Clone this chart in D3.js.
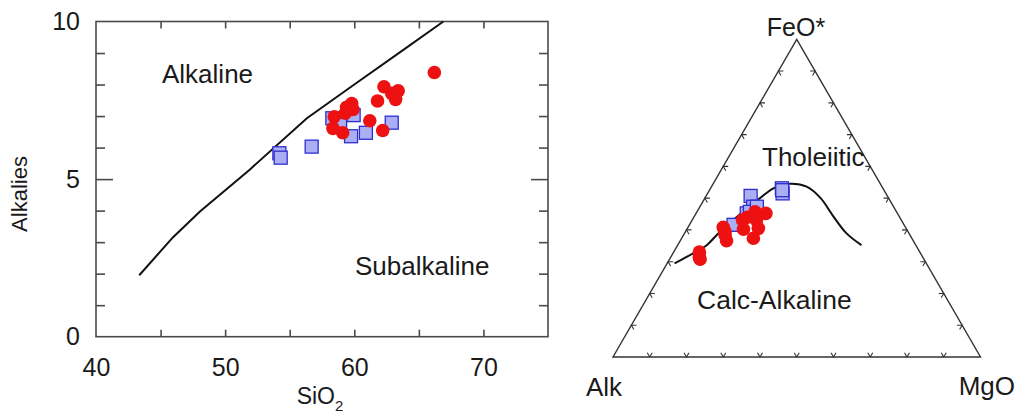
<!DOCTYPE html>
<html lang="en">
<head>
<meta charset="UTF-8">
<title>Alkalies vs SiO2 and AFM diagram</title>
<script src="https://d3js.org/d3.v7.min.js"></script>
<style>
  body { margin: 0; background: #fff; }
  text { font-family: "Liberation Sans", Arial, sans-serif; fill: #1a1a1a; }
</style>
</head>
<body>
<script>
// --- TAS style plot (SiO2 vs alkalies) ---
const sio2Red = [66.2, 62.3, 63.4, 63.2, 62.9, 61.8, 59.8, 59.4, 59.9, 59.3, 58.45, 61.2, 58.35, 59.1, 62.2];
const alkRed  = [8.38, 7.93, 7.80, 7.53, 7.72, 7.48, 7.40, 7.28, 7.21, 7.09, 6.98, 6.85, 6.61, 6.47, 6.54];
const sio2Blue = [54.2, 54.3, 56.7, 58.3, 58.9, 59.95, 59.75, 60.9, 62.9];
const alkBlue  = [5.82, 5.68, 6.03, 6.93, 6.72, 7.03, 6.36, 6.47, 6.79];
// Irvine & Baragar alkaline / subalkaline divide
const divideSio2 = [43.35, 45.95, 48.05, 51.9, 56.33, 60, 63.8, 66.9];
const divideAlk  = [1.95, 3.15, 3.97, 5.3, 6.93, 8.0, 9.1, 10];
const xTickLabels = [40, 50, 60, 70];
const yTickLabels = [0, 5, 10];

// --- AFM ternary, points as [Alk, FeO*, MgO] in % ---
const ternRed = [
  [60.8, 31.4, 7.8], [60.0, 33.0, 7.0], [49.6, 40.8, 9.6], [50.3, 38.4, 11.3],
  [50.8, 36.6, 12.6], [43.2, 43.1, 13.7], [44.4, 40.2, 15.4], [38.5, 45.7, 15.8],
  [39.4, 43.1, 17.5], [40.2, 40.5, 19.3], [43.1, 37.4, 19.5], [35.8, 45.2, 19.0],
  [60.9, 30.8, 8.3], [41.5, 44.0, 14.5], [49.8, 39.4, 10.8]
];
const ternBlue = [
  [37.2, 50.7, 12.1], [27.5, 53.1, 19.4], [28.1, 51.5, 20.4], [38.2, 47.3, 14.5],
  [41.0, 45.2, 13.8], [46.4, 41.6, 12.0], [39.9, 45.7, 14.4], [37.2, 47.3, 15.5],
  [27.7, 52.5, 19.8]
];
// tholeiitic / calc-alkaline boundary
const ternCurve = [
  [68.5, 29.5, 2.0], [63.0, 32.1, 4.9], [56.9, 35.2, 7.9], [51.9, 38.9, 9.2],
  [43.8, 44.4, 11.8], [35.0, 50.0, 15.0], [29.8, 53.1, 17.1], [24.6, 54.5, 20.9],
  [20.5, 53.6, 25.9], [18.5, 50.0, 31.5], [17.9, 44.2, 37.9], [17.0, 38.9, 44.1],
  [14.8, 35.2, 50.0]
];
const ternTicks = [10, 20, 30, 40, 50, 60, 70, 80, 90];

const redFill = "#ee1111";
const blueFill = "#aaaef2";
const blueStroke = "#2e2ed0";
const frameColor = "#4a4a4a";

const svg = d3.select("body").append("svg")
  .attr("width", 1019)
  .attr("height", 415);

svg.append("rect").attr("width", 1019).attr("height", 415).attr("fill", "#fff");

// ---------- left plot ----------
const x = d3.scaleLinear().domain([40, 75]).range([96, 548]);
const y = d3.scaleLinear().domain([0, 10]).range([336.7, 21.5]);

const left = svg.append("g");

left.append("rect")
  .attr("x", x(40)).attr("y", y(10))
  .attr("width", x(75) - x(40)).attr("height", y(0) - y(10))
  .attr("fill", "none").attr("stroke", frameColor).attr("stroke-width", 1.6);

const xMinor = [45, 50, 55, 60, 65, 70];
const yMinor = [1, 2, 3, 4, 6, 7, 8, 9];

// inward ticks on all four sides
left.append("g").attr("transform", `translate(0,${y(0)})`)
  .call(d3.axisBottom(x).tickValues(xMinor).tickSize(-7).tickFormat(""));
left.append("g").attr("transform", `translate(0,${y(10)})`)
  .call(d3.axisTop(x).tickValues(xMinor).tickSize(-7).tickFormat(""));
left.append("g").attr("transform", `translate(${x(40)},0)`)
  .call(d3.axisLeft(y).tickValues(yMinor).tickSize(-9).tickFormat(""));
left.append("g").attr("transform", `translate(${x(75)},0)`)
  .call(d3.axisRight(y).tickValues(yMinor).tickSize(-9).tickFormat(""));
left.append("g").attr("transform", `translate(${x(40)},0)`)
  .call(d3.axisLeft(y).tickValues([5]).tickSize(-17).tickFormat(""));
left.append("g").attr("transform", `translate(${x(75)},0)`)
  .call(d3.axisRight(y).tickValues([5]).tickSize(-17).tickFormat(""));

left.selectAll(".domain").remove();
left.selectAll(".tick line").attr("stroke", frameColor).attr("stroke-width", 1.6);

// tick labels
const xLab = left.append("g").attr("transform", `translate(0,${y(0)})`)
  .call(d3.axisBottom(x).tickValues(xTickLabels).tickSize(0).tickPadding(22).tickFormat(d3.format("d")));
const yLab = left.append("g").attr("transform", `translate(${x(40)},0)`)
  .call(d3.axisLeft(y).tickValues(yTickLabels).tickSize(0).tickPadding(16).tickFormat(d3.format("d")));
[xLab, yLab].forEach(g => {
  g.select(".domain").remove();
  g.selectAll("text").attr("font-size", 25).attr("font-family", "Liberation Sans, Arial, sans-serif").attr("fill", "#1a1a1a");
});

// axis titles
const sioT = left.append("text")
  .attr("x", 320).attr("y", 404)
  .attr("text-anchor", "middle")
  .attr("font-size", 23);
sioT.append("tspan").text("SiO");
sioT.append("tspan").attr("font-size", 15).attr("dy", 7).text("2");

left.append("text")
  .attr("transform", "translate(27,194) rotate(-90)")
  .attr("text-anchor", "middle")
  .attr("font-size", 22)
  .text("Alkalies");

left.append("text").attr("x", 162).attr("y", 83).attr("font-size", 26).text("Alkaline");
left.append("text").attr("x", 355).attr("y", 275).attr("font-size", 26).text("Subalkaline");

// dividing line
left.append("path")
  .datum(d3.zip(divideSio2, divideAlk))
  .attr("d", d3.line().x(d => x(d[0])).y(d => y(d[1])))
  .attr("fill", "none").attr("stroke", "#111").attr("stroke-width", 2);

// samples
left.selectAll(".sq").data(d3.zip(sio2Blue, alkBlue)).join("rect")
  .attr("x", d => x(d[0]) - 6.5).attr("y", d => y(d[1]) - 6.5)
  .attr("width", 13).attr("height", 13)
  .attr("fill", blueFill).attr("stroke", blueStroke).attr("stroke-width", 1.3);
left.selectAll(".dot").data(d3.zip(sio2Red, alkRed)).join("circle")
  .attr("cx", d => x(d[0])).attr("cy", d => y(d[1]))
  .attr("r", 6.8).attr("fill", redFill);

// ---------- AFM ternary ----------
const tx = d3.scaleLinear().domain([0, 100]).range([613, 980.5]);
const ty = d3.scaleLinear().domain([0, 100]).range([357, 39.3]);
// [alk, feo, mgo] -> screen
const tern = d => [tx(d[2] + d[1] / 2), ty(d[1])];

const right = svg.append("g");

right.append("path")
  .attr("d", d3.line()([tern([100, 0, 0]), tern([0, 0, 100]), tern([0, 100, 0])]) + "Z")
  .attr("fill", "none").attr("stroke", "#333").attr("stroke-width", 1.4);

// chevron ticks pointing along the ternary grid directions
const tl = 5;
const deg = Math.PI / 180;
function chevron(p, a1, a2) {
  return `M${p[0] + tl * Math.cos(a1 * deg)},${p[1] - tl * Math.sin(a1 * deg)}L${p[0]},${p[1]}L${p[0] + tl * Math.cos(a2 * deg)},${p[1] - tl * Math.sin(a2 * deg)}`;
}
const tickPaths = [];
ternTicks.forEach(t => {
  tickPaths.push(chevron(tern([100 - t, 0, t]), 60, 120));   // bottom
  tickPaths.push(chevron(tern([100 - t, t, 0]), 0, -60));    // left
  tickPaths.push(chevron(tern([0, t, 100 - t]), 180, 240));  // right
});
right.selectAll(".tt").data(tickPaths).join("path")
  .attr("d", d => d)
  .attr("fill", "none").attr("stroke", "#333").attr("stroke-width", 1.1);

right.append("path")
  .datum(ternCurve)
  .attr("d", d3.line().x(d => tern(d)[0]).y(d => tern(d)[1]).curve(d3.curveCatmullRom))
  .attr("fill", "none").attr("stroke", "#111").attr("stroke-width", 2);

right.selectAll(".sq").data(ternBlue).join("rect")
  .attr("x", d => tern(d)[0] - 6.5).attr("y", d => tern(d)[1] - 6.5)
  .attr("width", 13).attr("height", 13)
  .attr("fill", blueFill).attr("stroke", blueStroke).attr("stroke-width", 1.3);
right.selectAll(".dot").data(ternRed).join("circle")
  .attr("cx", d => tern(d)[0]).attr("cy", d => tern(d)[1])
  .attr("r", 6.8).attr("fill", redFill);

right.append("text").attr("x", 796).attr("y", 36).attr("text-anchor", "middle").attr("font-size", 25).text("FeO*");
right.append("text").attr("x", 586).attr("y", 396).attr("font-size", 26).text("Alk");
right.append("text").attr("x", 1015).attr("y", 395).attr("text-anchor", "end").attr("font-size", 26).text("MgO");
right.append("text").attr("x", 762).attr("y", 166).attr("font-size", 26).text("Tholeiitic");
right.append("text").attr("x", 697).attr("y", 309).attr("font-size", 26.5).text("Calc-Alkaline");
</script>
</body>
</html>
